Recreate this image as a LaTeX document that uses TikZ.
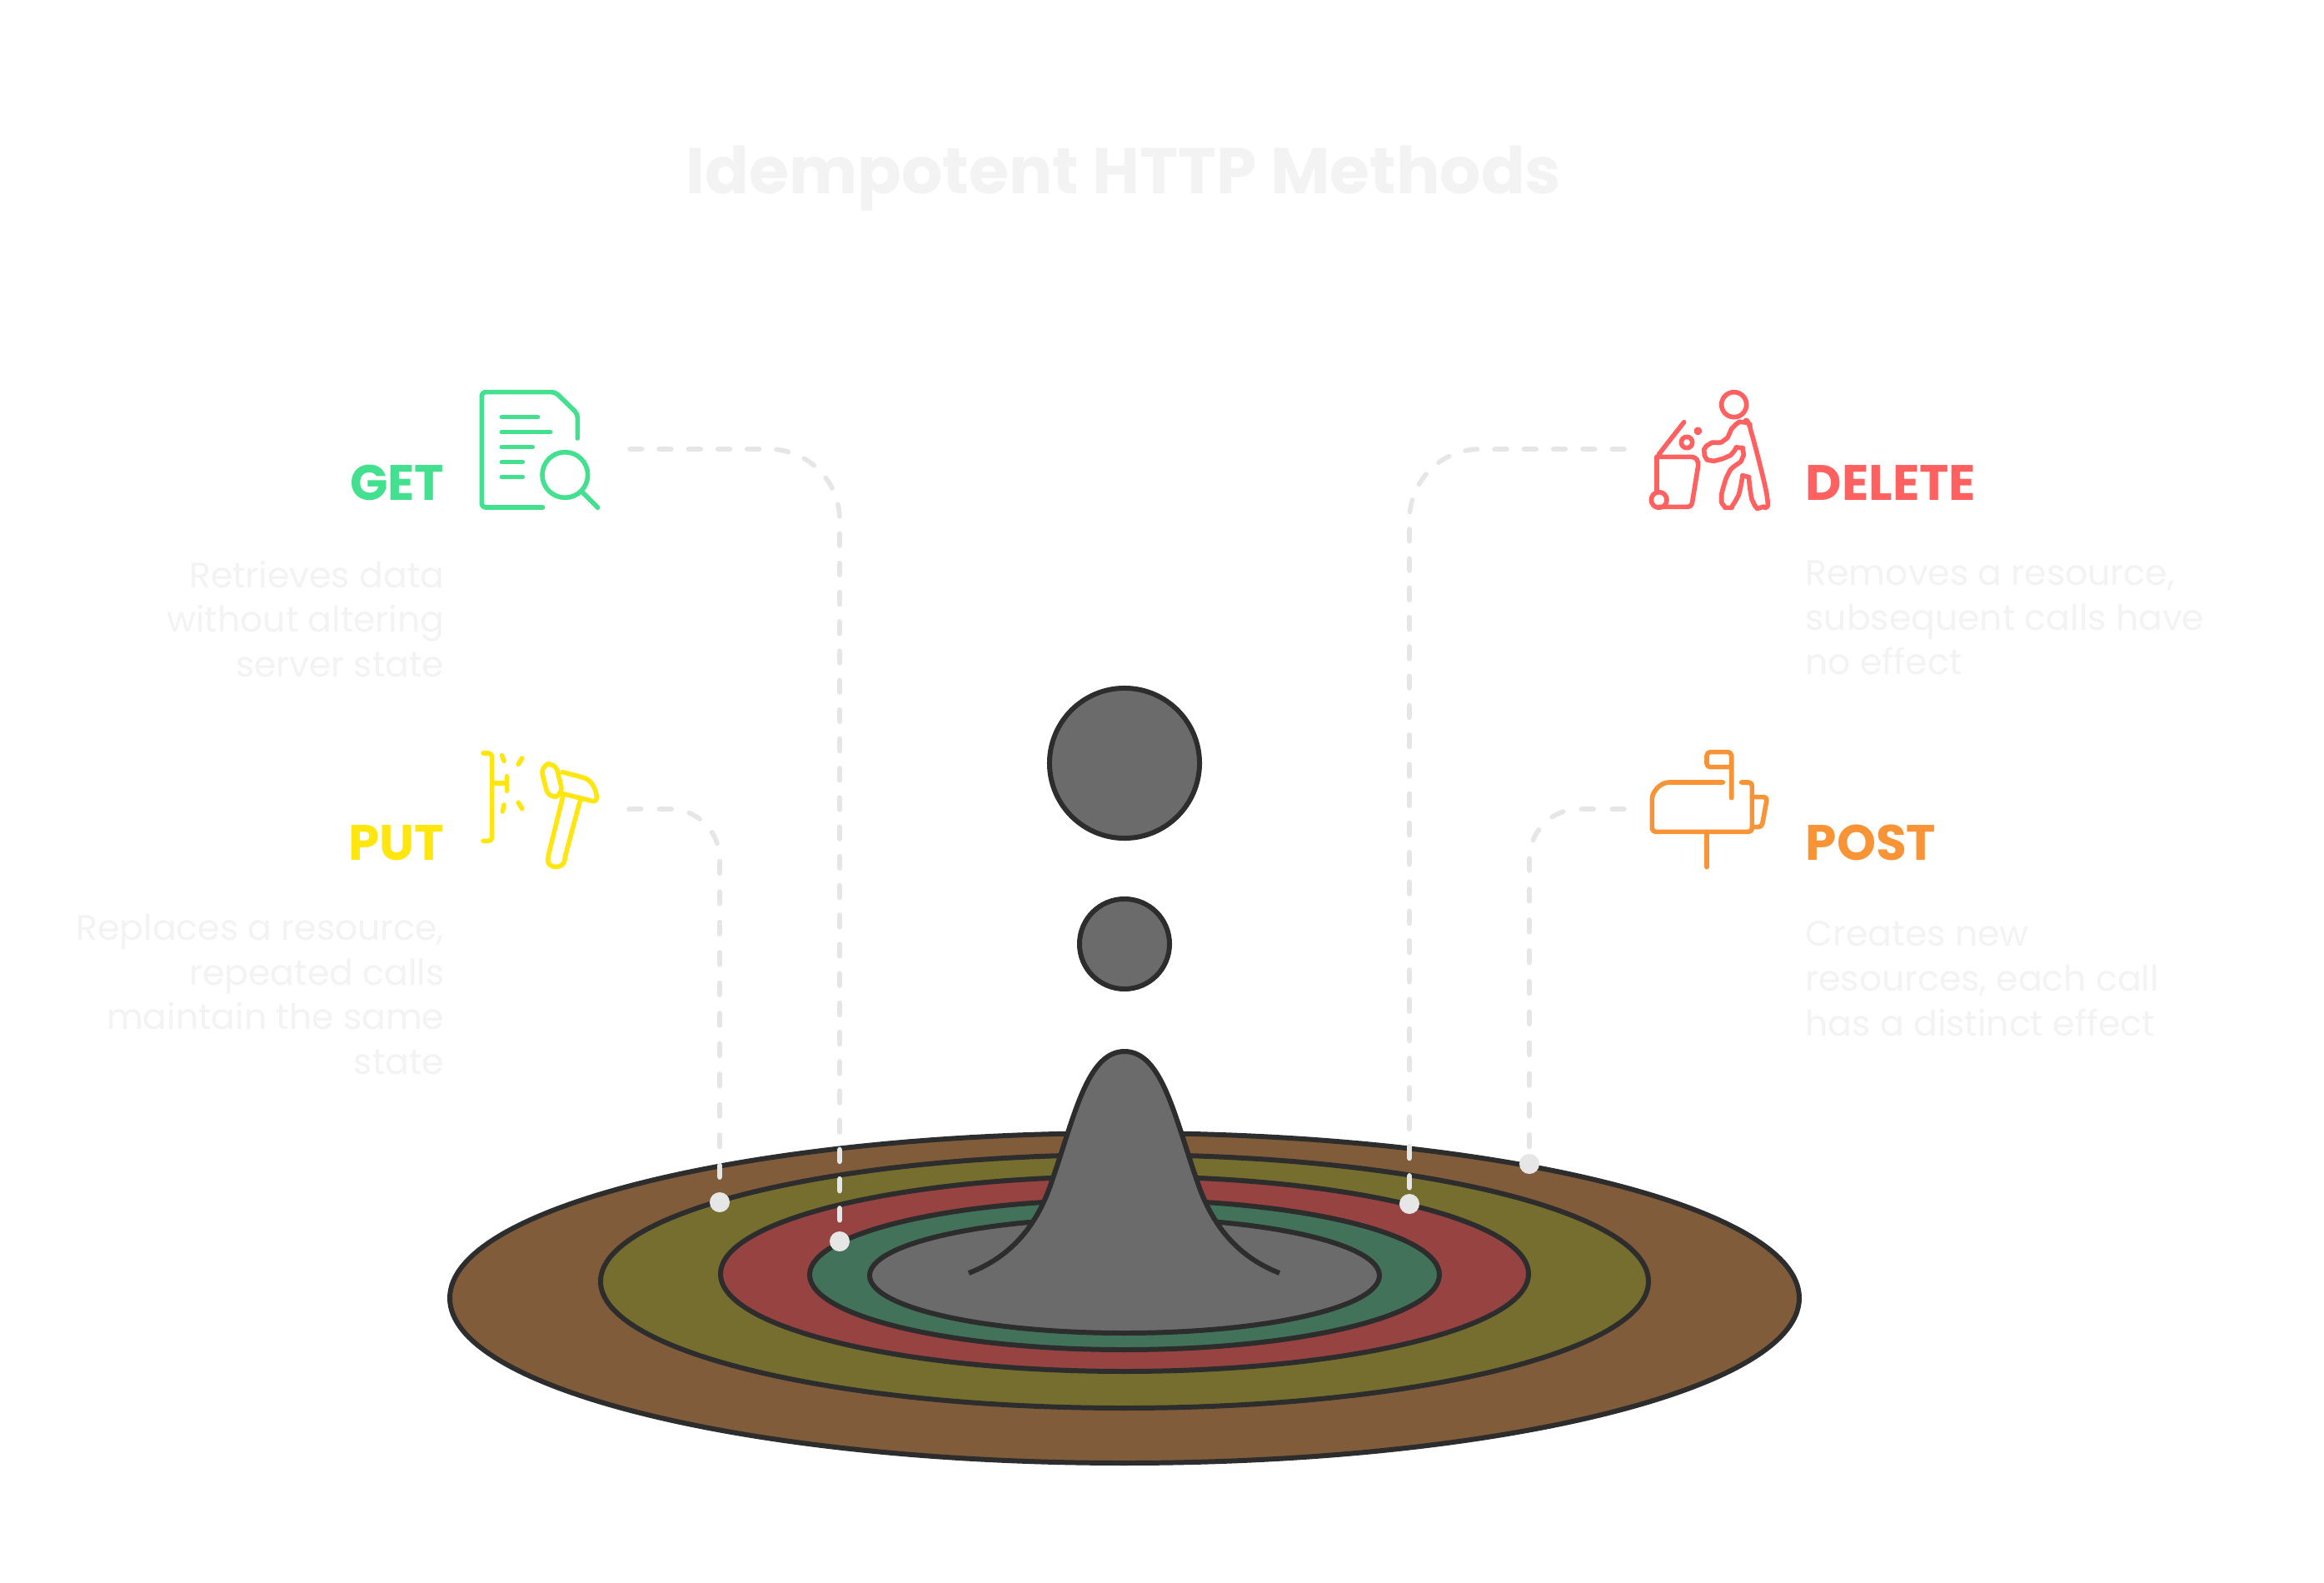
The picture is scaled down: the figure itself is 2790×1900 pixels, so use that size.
\documentclass[tikz,border=0pt]{standalone}
\usepackage{fontspec}
\setmainfont{Poppins}
\definecolor{ringbrown}{HTML}{815C3A}
\definecolor{ringolive}{HTML}{766E2F}
\definecolor{ringred}{HTML}{964342}
\definecolor{ringgreen}{HTML}{42735A}
\definecolor{coregray}{HTML}{6B6B6B}
\definecolor{inkdark}{HTML}{2D2D2D}
\definecolor{linkgray}{HTML}{E6E6E6}
\definecolor{faint}{HTML}{F3F3F3}
\definecolor{getgreen}{HTML}{43E08F}
\definecolor{delred}{HTML}{FF6161}
\definecolor{putyellow}{HTML}{FFE60F}
\definecolor{postorange}{HTML}{F99436}
\tikzset{
  ring/.style={draw=inkdark, line width=1.7pt},
  link/.style={draw=linkgray, line width=1.6pt, line cap=round},
  linkdot/.style={circle, fill=linkgray, inner sep=0pt, minimum size=0.24cm},
  method/.style={font=\fontsize{17}{20}\selectfont\bfseries, inner sep=0pt},
  desc/.style={font=\fontsize{12.1}{15.3}\selectfont, text=faint, inner sep=0pt},
  icon/.style={line width=1.6pt, line cap=round, line join=round, rounded corners=1.2pt},
}
\begin{document}
\begin{tikzpicture}[x=0.01cm, y=-0.01cm]
  \useasboundingbox (0,0) rectangle (2790,1900);
  \fill[white] (0,0) rectangle (2790,1900);

  % title
  \node[font=\fontsize{22.1}{26}\selectfont\bfseries, text=faint, inner sep=0pt] (title) at (1349,214) {Idempotent HTTP Methods};

  % rings
  \draw[ring, fill=ringbrown] (1350,1558) ellipse [x radius=810, y radius=198];
  \draw[ring, fill=ringolive] (1350,1538) ellipse [x radius=629, y radius=152];
  \draw[ring, fill=ringred] (1350,1529) ellipse [x radius=485, y radius=117];
  \draw[ring, fill=ringgreen] (1350,1530) ellipse [x radius=378, y radius=90];
  \draw[ring, fill=coregray] (1350,1531) ellipse [x radius=306, y radius=69];

  % peak and drops
  \draw[ring, fill=coregray] (1163,1528) .. controls (1215,1508) and (1245,1470) .. (1262,1420)
    .. controls (1290,1340) and (1305,1262) .. (1350,1262)
    .. controls (1395,1262) and (1410,1340) .. (1438,1420)
    .. controls (1455,1470) and (1485,1508) .. (1536,1528);
  \node[ring, fill=coregray, circle, inner sep=0pt, minimum size=1.8cm] (bigdrop) at (1350,916) {};
  \node[ring, fill=coregray, circle, inner sep=0pt, minimum size=1.08cm] (smalldrop) at (1350,1133) {};

  % connectors
  \coordinate (getstart) at (756,539);
  \coordinate (putstart) at (755,971);
  \coordinate (delstart) at (1950,539);
  \coordinate (poststart) at (1950,971);
  \node[linkdot] (getdot) at (1008,1490) {};
  \node[linkdot] (putdot) at (864,1443) {};
  \node[linkdot] (deldot) at (1692,1445) {};
  \node[linkdot] (postdot) at (1836,1397) {};
  \draw[link, dash pattern=on 4.2pt off 5.81pt, rounded corners=0.85cm] (getstart) -| (getdot);
  \draw[link, dash pattern=on 4.2pt off 6.17pt, rounded corners=0.6cm] (putstart) -| (putdot);
  \draw[link, dash pattern=on 4.2pt off 5.83pt, rounded corners=0.85cm] (delstart) -| (deldot);
  \draw[link, dash pattern=on 4.2pt off 6.28pt, rounded corners=0.6cm] (poststart) -| (postdot);

  % left labels
  \node[method, text=getgreen, anchor=base east] (getlabel) at (534,600) {GET};
  \node[desc, anchor=north east, align=right] (gettext) at (534,672) {Retrieves data\\without altering\\server state};
  \node[method, text=putyellow, anchor=base east] (putlabel) at (534,1032) {PUT};
  \node[desc, anchor=north east, align=right] (puttext) at (534,1096) {Replaces a resource,\\repeated calls\\maintain the same\\state};

  % right labels
  \node[method, text=delred, anchor=base west] (dellabel) at (2167,600) {DELETE};
  \node[desc, anchor=north west, align=left] (deltext) at (2167,672) {Removes a resource,\\subsequent calls have\\no effect};
  \node[method, text=postorange, anchor=base west] (postlabel) at (2167,1032) {POST};
  \node[desc, anchor=north west, align=left] (posttext) at (2167,1105) {Creates new\\resources, each call\\has a distinct effect};

  % get icon
  \begin{scope}[shift={(550,440)}, scale=1/3, icon, draw=getgreen]
    \draw (305,507) -- (85,507) -- (85,92) -- (350,92) -- (430,170) -- (430,258);
    \draw (157,182) -- (287,182);
    \draw (157,236) -- (332,236);
    \draw (157,290) -- (268,290);
    \draw (157,344) -- (232,344);
    \draw (157,398) -- (232,398);
    \draw (385,390) circle [radius=82];
    \draw (447,452) -- (503,508);
  \end{scope}

  % delete icon
  \begin{scope}[shift={(1960,450)}, scale=1/3, icon, draw=delred]
    \draw (365,107) circle [radius=45];
    \draw plot[smooth cycle, tension=0.55] coordinates {(395,170) (422,190) (485,445) (460,478) (435,460) (407,365) (375,445) (345,478) (320,445) (345,355) (395,300) (385,262) (340,295) (280,308) (258,280) (275,250) (330,235) (365,185)};
    \draw (185,170) -- (87,295) -- (225,295) -- (238,315) -- (212,475) -- (95,475);
    \draw (87,295) -- (87,415);
    \draw (95,450) circle [radius=28];
    \draw (195,243) circle [radius=20];
    \draw (235,202) circle [radius=6];
  \end{scope}

  % put icon
  \begin{scope}[shift={(560,880)}, scale=1/3, icon, draw=putyellow]
    \draw (60,72) -- (92,72) -- (92,388) -- (60,388);
    \draw (92,180) -- (145,180);
    \draw (145,155) -- (145,208);
    \draw (128,80) -- (135,100);
    \draw (200,90) -- (187,112);
    \draw (135,258) -- (130,282);
    \draw (187,250) -- (200,272);
    \draw[rounded corners=3pt, rotate around={14:(307,170)}] (280,110) rectangle (335,230);
    \draw (345,140) -- (415,158) .. controls (450,170) and (470,205) .. (468,248) -- (335,215);
    \draw (348,225) -- (295,440) .. controls (288,490) and (350,490) .. (355,445) -- (410,240);
  \end{scope}

  % post icon
  \begin{scope}[shift={(1960,880)}, scale=1/3, icon, draw=postorange]
    \draw (325,177) -- (145,177) .. controls (100,177) and (70,210) .. (70,250) -- (70,355) -- (430,355) -- (430,177) -- (392,177);
    \draw (356,233) -- (356,68) -- (267,68) -- (267,122) -- (356,122);
    \draw (267,355) -- (267,482);
    \draw (430,230) -- (485,230) -- (465,338) -- (430,338);
  \end{scope}
\end{tikzpicture}
\end{document}
